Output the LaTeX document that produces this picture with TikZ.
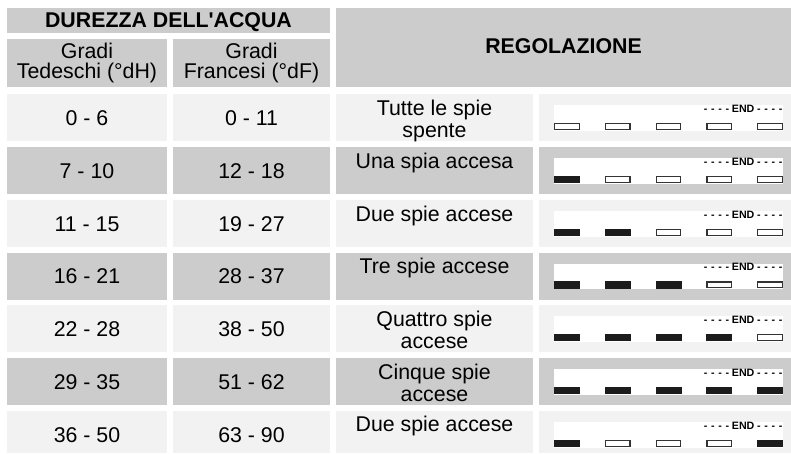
\documentclass[tikz,border=0pt]{standalone}
\usepackage{fontspec}
\setmainfont{Liberation Sans}[Ligatures=TeXOff]
\definecolor{cellLight}{HTML}{F2F2F2}
\definecolor{cellDark}{HTML}{CCCCCC}
\definecolor{ledOn}{HTML}{1C1C1C}
\definecolor{ledEdge}{HTML}{333333}
\newcommand{\dashrun}{-\kern2.8pt-\kern2.8pt-\kern2.8pt-}

\tikzset{every picture/.style={line width=0.75pt}}
\tikzset{
  lite/.style={draw opacity=0, fill=cellLight},
  dark/.style={draw opacity=0, fill=cellDark},
  panel/.style={draw opacity=0, fill=white},
  ledon/.style={draw opacity=0, fill=ledOn},
  ledoff/.style={draw=ledEdge, fill=white, line width=1pt},
  txt/.style={inner sep=0pt, anchor=base, align=center, font=\fontsize{16}{16.5}\selectfont},
  hdr/.style={inner sep=0pt, anchor=base, align=center, font=\fontsize{16}{15}\selectfont},
  endtag/.style={inner sep=0pt, anchor=base east, font=\fontsize{8}{8}\selectfont\bfseries}
}

\begin{document}
\begin{tikzpicture}[x=0.75pt,y=0.75pt,yscale=-1,xscale=1]
\useasboundingbox (0,0) rectangle (791,453);

%Header cells
\draw [dark] (7,8) rectangle (330,33) ;
\draw [dark] (7,39) rectangle (167,87) ;
\draw [dark] (173,39) rectangle (330,87) ;
\draw [dark] (336,8) rectangle (791,87) ;
% Text Node
\draw (168.5,27.5) node [hdr] (durezza) {\bfseries DUREZZA DELL'ACQUA};
% Text Node
\draw (87,78.5) node [hdr] (tedeschi) {Gradi\\Tedeschi (°dH)};
% Text Node
\draw (251.5,78.5) node [hdr] (francesi) {Gradi\\Francesi (°dF)};
% Text Node
\draw (563.5,54) node [hdr] (regolazione) {\bfseries REGOLAZIONE};

%Row 1
\draw [lite] (7,94) rectangle (167,141) ;
\draw [lite] (173,94) rectangle (330,141) ;
\draw [lite] (336,94) rectangle (533,141) ;
\draw [lite] (539,94) rectangle (791,141) ;
\draw [panel] (554,105) rectangle (783,130.7) ;
\draw [ledoff] (554.7,123.4) rectangle (579.3,129.3) ;
\draw [ledoff] (605.4,123.4) rectangle (630.1,129.3) ;
\draw [ledoff] (656.2,123.4) rectangle (680.8,129.3) ;
\draw [ledoff] (706.9,123.4) rectangle (731.6,129.3) ;
\draw [ledoff] (757.7,123.4) rectangle (782.3,129.3) ;
% Text Node
\draw (783,112) node [endtag] (end1) {\dashrun\kern2pt END\kern2pt\dashrun};
% Text Node
\draw (87,125) node [txt] (dh1) {0 - 6};
% Text Node
\draw (251.5,125) node [txt] (df1) {0 - 11};
% Text Node
\draw (434.5,137) node [txt] (reg1) {Tutte le spie\\spente};

%Row 2
\draw [dark] (7,147) rectangle (167,194) ;
\draw [dark] (173,147) rectangle (330,194) ;
\draw [dark] (336,147) rectangle (533,194) ;
\draw [dark] (539,147) rectangle (791,194) ;
\draw [panel] (554,158) rectangle (783,183.7) ;
\draw [ledon] (554,175.7) rectangle (580,183) ;
\draw [ledoff] (605.4,176.4) rectangle (630.1,182.3) ;
\draw [ledoff] (656.2,176.4) rectangle (680.8,182.3) ;
\draw [ledoff] (706.9,176.4) rectangle (731.6,182.3) ;
\draw [ledoff] (757.7,176.4) rectangle (782.3,182.3) ;
% Text Node
\draw (783,165) node [endtag] (end2) {\dashrun\kern2pt END\kern2pt\dashrun};
% Text Node
\draw (87,178) node [txt] (dh2) {7 - 10};
% Text Node
\draw (251.5,178) node [txt] (df2) {12 - 18};
% Text Node
\draw (434.5,168) node [txt] (reg2) {Una spia accesa};

%Row 3
\draw [lite] (7,200) rectangle (167,247) ;
\draw [lite] (173,200) rectangle (330,247) ;
\draw [lite] (336,200) rectangle (533,247) ;
\draw [lite] (539,200) rectangle (791,247) ;
\draw [panel] (554,211) rectangle (783,236.7) ;
\draw [ledon] (554,228.7) rectangle (580,236) ;
\draw [ledon] (604.75,228.7) rectangle (630.75,236) ;
\draw [ledoff] (656.2,229.4) rectangle (680.8,235.3) ;
\draw [ledoff] (706.9,229.4) rectangle (731.6,235.3) ;
\draw [ledoff] (757.7,229.4) rectangle (782.3,235.3) ;
% Text Node
\draw (783,218) node [endtag] (end3) {\dashrun\kern2pt END\kern2pt\dashrun};
% Text Node
\draw (87,231) node [txt] (dh3) {11 - 15};
% Text Node
\draw (251.5,231) node [txt] (df3) {19 - 27};
% Text Node
\draw (434.5,221) node [txt] (reg3) {Due spie accese};

%Row 4
\draw [dark] (7,252.5) rectangle (167,299.5) ;
\draw [dark] (173,252.5) rectangle (330,299.5) ;
\draw [dark] (336,252.5) rectangle (533,299.5) ;
\draw [dark] (539,252.5) rectangle (791,299.5) ;
\draw [panel] (554,263.5) rectangle (783,289.2) ;
\draw [ledon] (554,281.2) rectangle (580,288.5) ;
\draw [ledon] (604.75,281.2) rectangle (630.75,288.5) ;
\draw [ledon] (655.5,281.2) rectangle (681.5,288.5) ;
\draw [ledoff] (706.9,281.9) rectangle (731.6,287.8) ;
\draw [ledoff] (757.7,281.9) rectangle (782.3,287.8) ;
% Text Node
\draw (783,270.5) node [endtag] (end4) {\dashrun\kern2pt END\kern2pt\dashrun};
% Text Node
\draw (87,283.5) node [txt] (dh4) {16 - 21};
% Text Node
\draw (251.5,283.5) node [txt] (df4) {28 - 37};
% Text Node
\draw (434.5,273.5) node [txt] (reg4) {Tre spie accese};

%Row 5
\draw [lite] (7,305) rectangle (167,352) ;
\draw [lite] (173,305) rectangle (330,352) ;
\draw [lite] (336,305) rectangle (533,352) ;
\draw [lite] (539,305) rectangle (791,352) ;
\draw [panel] (554,316) rectangle (783,341.7) ;
\draw [ledon] (554,333.7) rectangle (580,341) ;
\draw [ledon] (604.75,333.7) rectangle (630.75,341) ;
\draw [ledon] (655.5,333.7) rectangle (681.5,341) ;
\draw [ledon] (706.25,333.7) rectangle (732.25,341) ;
\draw [ledoff] (757.7,334.4) rectangle (782.3,340.3) ;
% Text Node
\draw (783,323) node [endtag] (end5) {\dashrun\kern2pt END\kern2pt\dashrun};
% Text Node
\draw (87,336) node [txt] (dh5) {22 - 28};
% Text Node
\draw (251.5,336) node [txt] (df5) {38 - 50};
% Text Node
\draw (434.5,348) node [txt] (reg5) {Quattro spie\\accese};

%Row 6
\draw [dark] (7,358) rectangle (167,405) ;
\draw [dark] (173,358) rectangle (330,405) ;
\draw [dark] (336,358) rectangle (533,405) ;
\draw [dark] (539,358) rectangle (791,405) ;
\draw [panel] (554,369) rectangle (783,394.7) ;
\draw [ledon] (554,386.7) rectangle (580,394) ;
\draw [ledon] (604.75,386.7) rectangle (630.75,394) ;
\draw [ledon] (655.5,386.7) rectangle (681.5,394) ;
\draw [ledon] (706.25,386.7) rectangle (732.25,394) ;
\draw [ledon] (757,386.7) rectangle (783,394) ;
% Text Node
\draw (783,376) node [endtag] (end6) {\dashrun\kern2pt END\kern2pt\dashrun};
% Text Node
\draw (87,389) node [txt] (dh6) {29 - 35};
% Text Node
\draw (251.5,389) node [txt] (df6) {51 - 62};
% Text Node
\draw (434.5,401) node [txt] (reg6) {Cinque spie\\accese};

%Row 7
\draw [lite] (7,411) rectangle (167,453) ;
\draw [lite] (173,411) rectangle (330,453) ;
\draw [lite] (336,411) rectangle (533,453) ;
\draw [lite] (539,411) rectangle (791,453) ;
\draw [panel] (554,422) rectangle (783,447.7) ;
\draw [ledon] (554,439.7) rectangle (580,447) ;
\draw [ledoff] (605.4,440.4) rectangle (630.1,446.3) ;
\draw [ledoff] (656.2,440.4) rectangle (680.8,446.3) ;
\draw [ledoff] (706.9,440.4) rectangle (731.6,446.3) ;
\draw [ledon] (757,439.7) rectangle (783,447) ;
% Text Node
\draw (783,429) node [endtag] (end7) {\dashrun\kern2pt END\kern2pt\dashrun};
% Text Node
\draw (87,442) node [txt] (dh7) {36 - 50};
% Text Node
\draw (251.5,442) node [txt] (df7) {63 - 90};
% Text Node
\draw (434.5,431) node [txt] (reg7) {Due spie accese};

\end{tikzpicture}
\end{document}
